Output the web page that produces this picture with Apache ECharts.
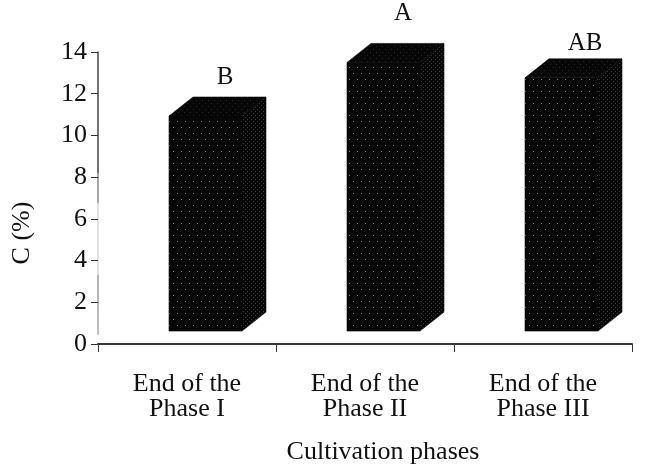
<!DOCTYPE html>
<html>
<head>
<meta charset="utf-8">
<style>html,body{margin:0;padding:0;background:#fff}#main{width:645px;height:474px}</style>
<script src="https://cdn.jsdelivr.net/npm/echarts@6/dist/echarts.min.js"></script>
</head>
<body>
<div id="main"></div>
<script>
var categories = ['End of the\nPhase I', 'End of the\nPhase II', 'End of the\nPhase III'];
var barTops = [10.93, 13.5, 12.76];
var barBases = [0.62, 0.62, 0.62];
var letters = ['B', 'A', 'AB'];
var letterHeights = [12.8, 15.83, 14.43];
var yTicks = [0, 2, 4, 6, 8, 10, 12, 14];

// dotted fill for the box faces
function dotPattern(w, h, dot) {
    var c = document.createElement('canvas');
    c.width = w; c.height = h;
    var g = c.getContext('2d');
    g.fillStyle = '#070707';
    g.fillRect(0, 0, w, h);
    g.fillStyle = dot;
    g.fillRect(1, 1, 1, 1);
    g.fillRect(1 + w / 2, 1 + h / 2, 1, 1);
    return { image: c, repeat: 'repeat' };
}
var frontFill = dotPattern(8, 12, '#8c8c8c');
var topFill = dotPattern(6, 6, '#262626');
var sideFill = dotPattern(4, 4, '#3a3a3a');

function face(points, fill) {
    return { type: 'polygon', shape: { points: points }, style: { fill: fill, stroke: '#070707', lineWidth: 0.6 } };
}

function renderBox(params, api) {
    var i = api.value(0);
    var top = api.coord([i, api.value(1)]);
    var bottom = api.coord([i, api.value(2)]);
    var w = 73, dx = 24, dy = 19, shift = 18.5;
    var l = top[0] + shift - w / 2, r = l + w;
    return {
        type: 'group',
        children: [
            face([[l, top[1]], [r, top[1]], [r, bottom[1]], [l, bottom[1]]], frontFill),
            face([[l, top[1]], [l + dx, top[1] - dy], [r + dx, top[1] - dy], [r, top[1]]], topFill),
            face([[r, top[1]], [r + dx, top[1] - dy], [r + dx, bottom[1] - dy], [r, bottom[1]]], sideFill)
        ]
    };
}

function renderLetter(params, api) {
    var p = api.coord([api.value(0), api.value(1)]);
    var shifts = [38, 38, 42];
    return {
        type: 'text',
        style: {
            x: p[0] + shifts[params.dataIndex], y: p[1],
            text: letters[params.dataIndex],
            fill: '#111',
            font: '25px "Liberation Serif"',
            align: 'center',
            verticalAlign: 'middle'
        }
    };
}

var myChart = echarts.init(document.getElementById('main'));
var option = {
    animation: false,
    backgroundColor: '#fff',
    grid: { left: 98, right: 13, top: 52, bottom: 130 },
    xAxis: {
        type: 'category',
        data: categories,
        name: 'Cultivation phases',
        nameLocation: 'middle',
        nameGap: 95,
        nameTextStyle: { fontFamily: 'Liberation Serif', fontSize: 26, color: '#111', padding: [0, 0, 0, 36] },
        axisLine: { show: true, lineStyle: { color: '#3a3a3a', width: 2 } },
        axisTick: { show: true, alignWithLabel: false, length: 8, lineStyle: { color: '#333', width: 1 } },
        axisLabel: { fontFamily: 'Liberation Serif', fontSize: 26, color: '#111', lineHeight: 25, margin: 28, interval: 0 }
    },
    yAxis: {
        type: 'value',
        min: 0,
        max: 14,
        interval: 2,
        name: 'C (%)',
        nameLocation: 'middle',
        nameGap: 63,
        nameTextStyle: { fontFamily: 'Liberation Serif', fontSize: 26, color: '#111', padding: [0, 70, 0, 0] },
        axisLine: {
            show: true,
            lineStyle: {
                width: 1.5,
                // the scanned axis fades out in patches going down
                color: {
                    type: 'linear', x: 0, y: 0, x2: 0, y2: 474, global: true,
                    colorStops: [
                        { offset: 0, color: '#444' },
                        { offset: 0.365, color: '#444' },
                        { offset: 0.366, color: '#888' },
                        { offset: 0.428, color: '#888' },
                        { offset: 0.429, color: '#d8d8d8' },
                        { offset: 0.58, color: '#d8d8d8' },
                        { offset: 0.581, color: '#999' },
                        { offset: 0.705, color: '#aaa' },
                        { offset: 0.708, color: '#fff' },
                        { offset: 1, color: '#fff' }
                    ]
                }
            }
        },
        axisTick: { show: true, length: 7, lineStyle: { color: '#333', width: 1 } },
        axisLabel: {
            fontFamily: 'Liberation Serif', fontSize: 26, color: '#111', margin: 11,
            formatter: function (v) { return yTicks.indexOf(v) >= 0 ? String(v) : ''; }
        },
        splitLine: { show: false }
    },
    series: [
        {
            type: 'custom',
            renderItem: renderBox,
            clip: false,
            encode: { x: 0, y: 1 },
            data: categories.map(function (c, i) { return [i, barTops[i], barBases[i]]; })
        },
        {
            type: 'custom',
            renderItem: renderLetter,
            clip: false,
            encode: { x: 0, y: 1 },
            data: categories.map(function (c, i) { return [i, letterHeights[i]]; })
        }
    ]
};
myChart.setOption(option);
</script>
</body>
</html>
